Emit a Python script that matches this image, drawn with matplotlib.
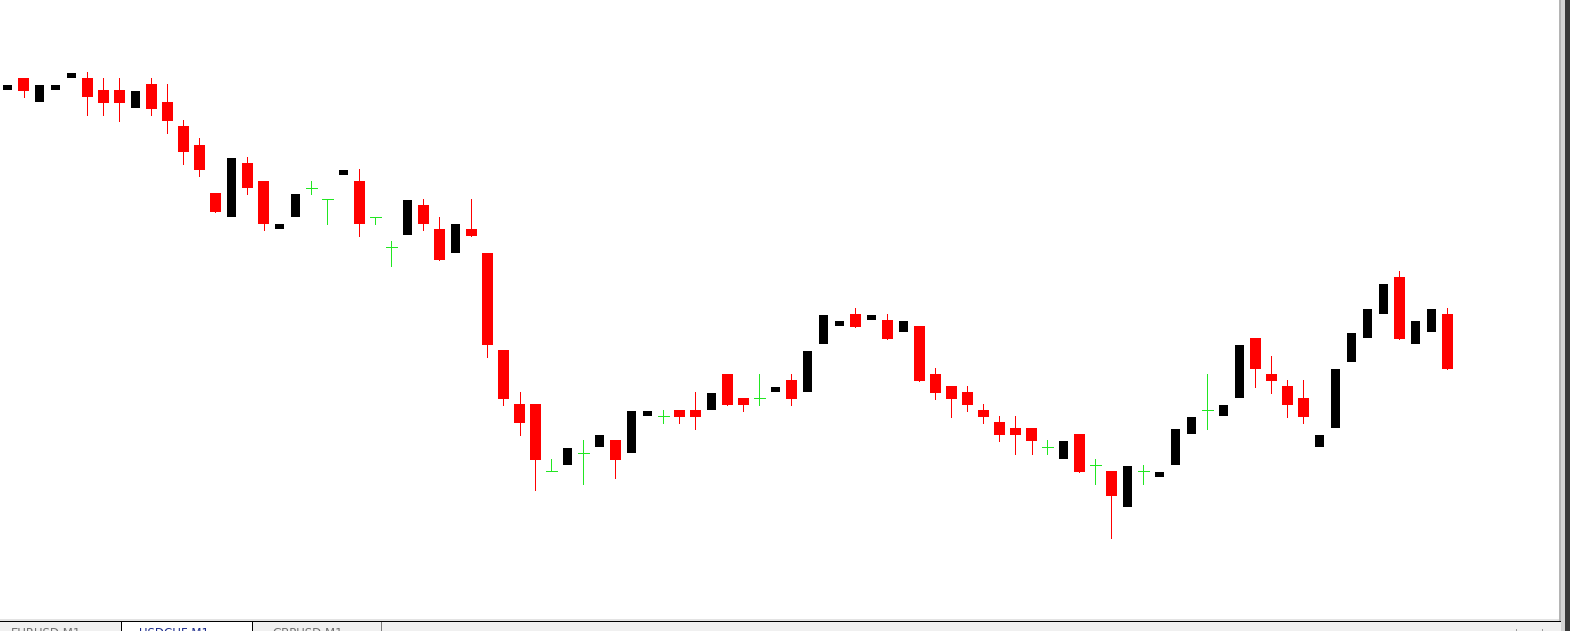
import numpy as np
import matplotlib
matplotlib.use("Agg")
import matplotlib.pyplot as plt
from matplotlib.patches import Rectangle

# USDCHF M1 candles
opens = [0.91410, 0.91422, 0.91398, 0.91410, 0.91422, 0.91422, 0.91410, 0.91410, 0.91392, 0.91416,
         0.91398, 0.91374, 0.91355, 0.91307, 0.91283, 0.91337, 0.91319, 0.91271, 0.91283, 0.91312,
         0.91301, 0.91325, 0.91319, 0.91283, 0.91253, 0.91265, 0.91295, 0.91271, 0.91247, 0.91271,
         0.91247, 0.91150, 0.91096, 0.91096, 0.91029, 0.91035, 0.91047, 0.91053, 0.91060, 0.91047,
         0.91084, 0.91084, 0.91090, 0.91090, 0.91090, 0.91126, 0.91102, 0.91102, 0.91108, 0.91120,
         0.91108, 0.91156, 0.91174, 0.91186, 0.91180, 0.91180, 0.91168, 0.91174, 0.91126, 0.91114,
         0.91108, 0.91090, 0.91078, 0.91072, 0.91072, 0.91053, 0.91041, 0.91066, 0.91035, 0.91029,
         0.90993, 0.91029, 0.91023, 0.91035, 0.91066, 0.91090, 0.91084, 0.91102, 0.91162, 0.91126,
         0.91114, 0.91102, 0.91053, 0.91072, 0.91138, 0.91162, 0.91186, 0.91223, 0.91156, 0.91168,
         0.91186]
highs = [0.91415, 0.91422, 0.91415, 0.91415, 0.91427, 0.91428, 0.91422, 0.91422, 0.91409, 0.91422,
         0.91416, 0.91380, 0.91362, 0.91307, 0.91342, 0.91343, 0.91319, 0.91276, 0.91306, 0.91319,
         0.91301, 0.91330, 0.91331, 0.91283, 0.91259, 0.91300, 0.91301, 0.91283, 0.91276, 0.91301,
         0.91247, 0.91150, 0.91108, 0.91096, 0.91041, 0.91052, 0.91060, 0.91065, 0.91060, 0.91089,
         0.91089, 0.91090, 0.91090, 0.91108, 0.91107, 0.91126, 0.91102, 0.91126, 0.91113, 0.91126,
         0.91149, 0.91185, 0.91179, 0.91192, 0.91185, 0.91186, 0.91179, 0.91174, 0.91132, 0.91114,
         0.91114, 0.91096, 0.91084, 0.91084, 0.91072, 0.91060, 0.91059, 0.91066, 0.91041, 0.91029,
         0.91034, 0.91035, 0.91028, 0.91071, 0.91083, 0.91126, 0.91095, 0.91155, 0.91162, 0.91144,
         0.91120, 0.91120, 0.91065, 0.91131, 0.91167, 0.91191, 0.91216, 0.91229, 0.91179, 0.91191,
         0.91192]
lows = [0.91410, 0.91403, 0.91398, 0.91410, 0.91422, 0.91385, 0.91385, 0.91379, 0.91392, 0.91385,
        0.91367, 0.91336, 0.91324, 0.91288, 0.91283, 0.91306, 0.91270, 0.91271, 0.91283, 0.91306,
        0.91276, 0.91325, 0.91264, 0.91276, 0.91234, 0.91265, 0.91270, 0.91240, 0.91247, 0.91264,
        0.91143, 0.91095, 0.91065, 0.91010, 0.91029, 0.91035, 0.91016, 0.91053, 0.91022, 0.91047,
        0.91084, 0.91077, 0.91077, 0.91071, 0.91090, 0.91095, 0.91089, 0.91095, 0.91108, 0.91095,
        0.91108, 0.91156, 0.91174, 0.91173, 0.91180, 0.91161, 0.91168, 0.91119, 0.91101, 0.91083,
        0.91089, 0.91077, 0.91059, 0.91046, 0.91046, 0.91046, 0.91041, 0.91028, 0.91016, 0.90962,
        0.90993, 0.91016, 0.91023, 0.91035, 0.91066, 0.91071, 0.91084, 0.91102, 0.91113, 0.91107,
        0.91083, 0.91077, 0.91053, 0.91072, 0.91138, 0.91162, 0.91186, 0.91161, 0.91156, 0.91168,
        0.91131]
closes = [0.91415, 0.91409, 0.91415, 0.91415, 0.91427, 0.91403, 0.91397, 0.91397, 0.91409, 0.91391,
          0.91379, 0.91348, 0.91330, 0.91288, 0.91342, 0.91312, 0.91276, 0.91276, 0.91306, 0.91312,
          0.91301, 0.91330, 0.91276, 0.91283, 0.91253, 0.91300, 0.91276, 0.91240, 0.91276, 0.91264,
          0.91155, 0.91101, 0.91077, 0.91040, 0.91029, 0.91052, 0.91047, 0.91065, 0.91040, 0.91089,
          0.91089, 0.91084, 0.91083, 0.91083, 0.91107, 0.91095, 0.91095, 0.91102, 0.91113, 0.91101,
          0.91149, 0.91185, 0.91179, 0.91173, 0.91185, 0.91161, 0.91179, 0.91119, 0.91107, 0.91101,
          0.91095, 0.91083, 0.91065, 0.91065, 0.91059, 0.91053, 0.91059, 0.91028, 0.91035, 0.91004,
          0.91034, 0.91029, 0.91028, 0.91071, 0.91083, 0.91090, 0.91095, 0.91155, 0.91131, 0.91119,
          0.91095, 0.91083, 0.91065, 0.91131, 0.91167, 0.91191, 0.91216, 0.91161, 0.91179, 0.91191,
          0.91131]

tab_labels = ["EURUSD,M1", "USDCHF,M1", "GBPUSD,M1"]

o = np.array(opens)
h = np.array(highs)
l = np.array(lows)
c = np.array(closes)
x = np.arange(len(o))

up = c > o
down = c < o
doji = c == o

W, H = 1570, 631
fig = plt.figure(figsize=(W / 100, H / 100), dpi=100)
fig.patch.set_facecolor("white")

# chart area
ax = fig.add_axes([0, 12 / H, 1559 / W, 619 / H])
ax.set_facecolor("white")
ax.set_xlim(-7.5 / 16, (1559 - 7.5) / 16)
ax.set_ylim(0.91500 - 619e-5, 0.91500)
ax.axis("off")

red = "#ff0000"
green = "#22e622"

# bear candles: red wick + red body
ax.vlines(x[down], l[down], h[down], color=red, lw=0.6, antialiased=False, zorder=1)
ax.bar(x[down], (o - c)[down], bottom=c[down], width=11 / 16, color=red,
       linewidth=0, antialiased=False, zorder=2)
# bull candles: black body (wick drawn in white, so not visible)
ax.bar(x[up], (c - o)[up], bottom=o[up], width=9 / 16, color="black",
       linewidth=0, antialiased=False, zorder=2)
# doji crosses
ax.vlines(x[doji], l[doji], h[doji], color=green, lw=0.6, antialiased=False, zorder=3)
ax.hlines(o[doji], x[doji] - 5.5 / 16, x[doji] + 5.5 / 16, color=green, lw=0.6,
          antialiased=False, zorder=3)

# window frame, borders and tabs (pixel coordinates)
deco = fig.add_axes([0, 0, 1, 1], zorder=5)
deco.set_xlim(0, W)
deco.set_ylim(H, 0)
deco.axis("off")
deco.patch.set_alpha(0)

def rect(x0, y0, w, hh, col):
    deco.add_patch(Rectangle((x0, y0), w, hh, facecolor=col, edgecolor="none",
                             antialiased=False))

rect(0, 619, 1561, 1.5, "#e3e3e3")
rect(1559, 0, 2, 621, "#b4b4b4")
rect(1561, 0, 4, 631, "#d4d4d4")
rect(1565, 0, 5, 631, "#3a3a3a")
rect(0, 621, 1561, 10, "#f0f0f0")
rect(0, 621, 1561, 1.3, "black")
# tabs
rect(121, 621, 1.2, 10, "black")
rect(122, 622, 130, 9, "white")
rect(252, 621, 1.2, 10, "black")
rect(381, 622, 1, 9, "#7a7a7a")
rect(1516, 629, 1, 2, "#9a9a9a")
rect(1542, 629, 1, 2, "#9a9a9a")

# tab captions sit half below the window edge, as in the screenshot
tab_x = [11, 139, 272]
tab_col = ["#707070", "#1c2c8c", "#707070"]
for tx, lab, col in zip(tab_x, tab_labels, tab_col):
    deco.text(tx, 627, lab, fontsize=8.5, color=col, va="top", ha="left",
              family="DejaVu Sans", clip_on=True)

fig.savefig("out.png", dpi=100)
